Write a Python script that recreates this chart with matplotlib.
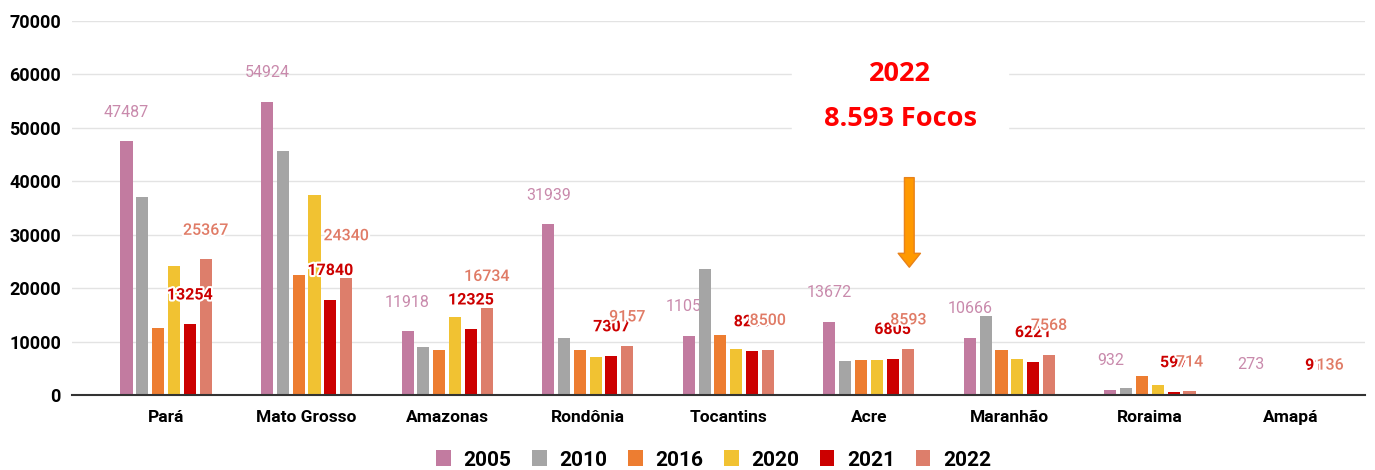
import matplotlib.pyplot as plt
import matplotlib.patheffects as pe
import numpy as np

# estados e valores (focos de queimadas)
estados = ['Pará', 'Mato Grosso', 'Amazonas', 'Rondônia', 'Tocantins',
           'Acre', 'Maranhão', 'Roraima', 'Amapá']
anos = ['2005', '2010', '2016', '2020', '2021', '2022']

v2005 = [47487, 54924, 11918, 31939, 11052, 13672, 10666, 932, 273]
v2010 = [37100, 45700, 8900, 10600, 23600, 6300, 14800, 1400, 100]
v2016 = [12500, 22400, 8400, 8400, 11200, 6600, 8400, 3500, 150]
v2020 = [24100, 37500, 14600, 7200, 8700, 6600, 6700, 1800, 110]
v2021 = [13254, 17840, 12325, 7307, 8250, 6805, 6221, 597, 91]
v2022 = [25367, 21900, 16300, 9157, 8500, 8593, 7568, 714, 136]

# valores escritos nos rótulos (alguns não batem com a altura da barra)
rot2022 = [25367, 24340, 16734, 9157, 8500, 8593, 7568, 714, 136]

cores = ['#c27ba0', '#a5a5a5', '#ed7d31', '#f1c232', '#cc0000', '#dd7e6b']

plt.rcParams['font.family'] = ['Roboto', 'DejaVu Sans']

fig = plt.figure(figsize=(13.75, 4.7), dpi=100)
ax = fig.add_axes([72 / 1375, 75 / 470, 1293 / 1375, 374 / 470])

x = np.arange(len(estados))
passo = 0.1125
larg = 0.086
series = [v2005, v2010, v2016, v2020, v2021, v2022]
for i, (vals, cor, ano) in enumerate(zip(series, cores, anos)):
    ax.bar(x + (i - 2.5) * passo, vals, larg, color=cor, label=ano, zorder=3)

# rótulos de dados
for xi, v in zip(x, v2005):
    ax.annotate(str(v), (xi - 2.5 * passo, v), xytext=(0, 21), textcoords='offset points',
                ha='center', va='center', fontsize=11.5, color='#c98aac', zorder=2.5)
for xi, v in zip(x, v2021):
    ax.annotate(str(v), (xi + 1.5 * passo, v), xytext=(0, 21), textcoords='offset points',
                ha='center', va='center', fontsize=11.5, color='#cc0000', fontweight='bold',
                zorder=4, path_effects=[pe.withStroke(linewidth=3, foreground='white')])
for xi, v, r in zip(x, v2022, rot2022):
    ax.annotate(str(r), (xi + 2.5 * passo, r), xytext=(0, 21), textcoords='offset points',
                ha='center', va='center', fontsize=11.5, color='#e07b66', fontweight='medium',
                zorder=5, path_effects=[pe.withStroke(linewidth=3, foreground='white')])

ax.set_xlim(-0.669, 8.53)
ax.set_ylim(0, 70000)
ax.set_yticks(np.arange(0, 70001, 10000))
ax.set_xticks(x)
ax.set_xticklabels(estados, fontsize=12.5, fontweight='bold')
for t in ax.get_yticklabels():
    t.set_fontsize(13)
    t.set_fontweight('bold')
ax.tick_params(axis='both', length=0, pad=8, colors='black')
ax.tick_params(axis='x', pad=11)
ax.grid(axis='y', color='#e3e3e3', linewidth=1, zorder=0)
for s in ['top', 'right', 'left']:
    ax.spines[s].set_visible(False)
ax.spines['bottom'].set_color('#333333')
ax.spines['bottom'].set_linewidth(1.5)
ax.spines['bottom'].set_zorder(6)

# caixa de destaque
fig.patches.append(plt.Rectangle((792 / 1375, 1 - 150 / 470), 216 / 1375, 110 / 470,
                                 transform=fig.transFigure, color='white', zorder=5))
fig.text(900 / 1375, 1 - 74 / 470, '2022', ha='center', va='center', fontsize=19.5,
         fontweight='bold', color='#ff0000', family=['Open Sans', 'DejaVu Sans'], zorder=6)
fig.text(900 / 1375, 1 - 119 / 470, '8.593 Focos', ha='center', va='center', fontsize=19.5,
         fontweight='bold', color='#ff0000', family=['Open Sans', 'DejaVu Sans'], zorder=6)

# seta
ax.annotate('', xy=(5.288, 23400), xytext=(5.288, 41200),
            arrowprops=dict(arrowstyle='simple,head_width=1.6,head_length=1.0,tail_width=0.7',
                            fc='#ff9900', ec='#e8821a', lw=1), zorder=6)

fig.legend(loc='center', bbox_to_anchor=(0.519, 1 - 460 / 470), ncol=6, frameon=False,
           prop={'size': 15, 'weight': 'bold'}, handlelength=0.7, handleheight=0.8,
           handletextpad=0.6, columnspacing=1.0)

fig.savefig('out.png', dpi=100)
